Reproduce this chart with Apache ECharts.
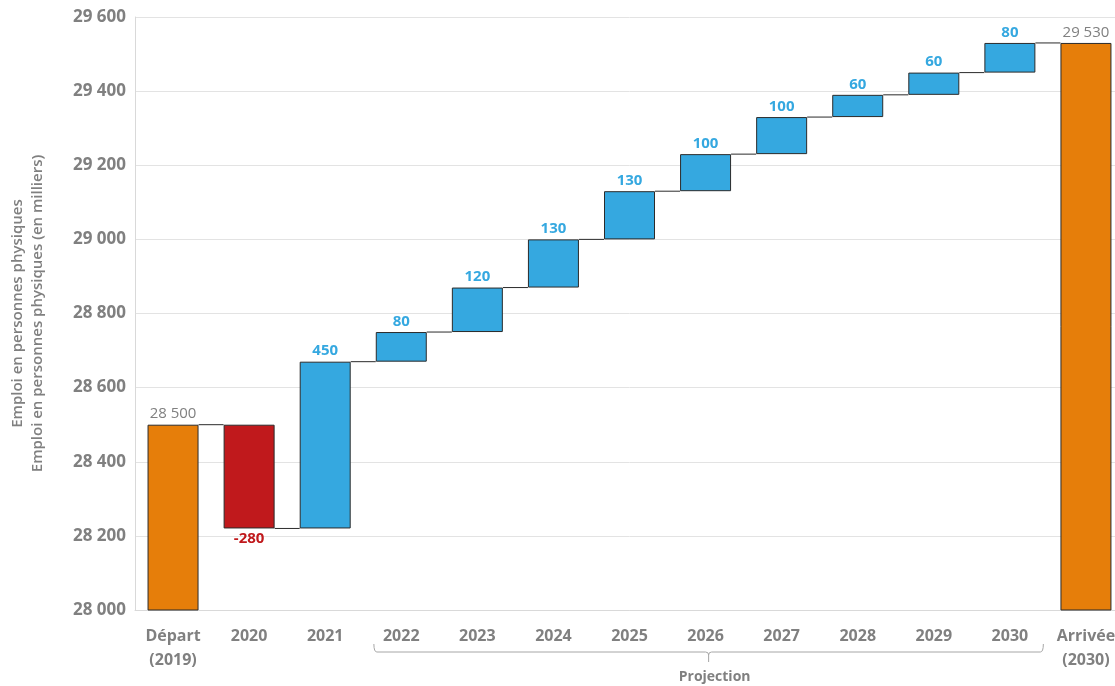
<!DOCTYPE html>
<html><head><meta charset="utf-8">
<script src="https://cdn.jsdelivr.net/npm/echarts@6/dist/echarts.min.js"></script>
<style>html,body{margin:0;padding:0;background:#fff;overflow:hidden}#c{width:1124px;height:686px}</style>
</head><body><div id="c"></div>
<script>
const categories = ['Départ\n(2019)','2020','2021','2022','2023','2024','2025','2026','2027','2028','2029','2030','Arrivée\n(2030)'];
const startValue = 28500;
const deltas = [-280, 450, 80, 120, 130, 130, 100, 100, 60, 60, 80];
const endValue = 29530;
const yTicks = {min: 28000, max: 29600, interval: 200};

const fmt = v => String(Math.round(Math.abs(v))).replace(/\B(?=(\d{3})+(?!\d))/g, ' ');
const ORANGE = '#E67E0A', RED = '#C0191C', BLUE = '#35A8E0', GREY = '#808080';

const base = [], vis = [], levels = [startValue];
base.push(0); vis.push({value: startValue, itemStyle:{color: ORANGE}, label:{show:true, position:'top', formatter: fmt(startValue), color: GREY, fontWeight:'normal'}});
let lvl = startValue;
deltas.forEach(d => {
  const nl = lvl + d;
  base.push(Math.min(lvl, nl));
  vis.push({value: Math.abs(d), itemStyle:{color: d < 0 ? RED : BLUE},
    label:{show:true, position: d < 0 ? 'bottom' : 'top', formatter: (d<0?'-':'') + fmt(d), color: d < 0 ? RED : BLUE, fontWeight:'bold'}});
  lvl = nl; levels.push(lvl);
});
base.push(0); vis.push({value: endValue, itemStyle:{color: ORANGE}, label:{show:true, position:'top', formatter: fmt(endValue), color: GREY, fontWeight:'normal'}});

const connectors = levels.map((v, i) => [i, v]);
const BWPX = 51;

const chart = echarts.init(document.getElementById('c'));
const FONT = 'Open Sans';
chart.setOption({
  animation: false,
  textStyle: {fontFamily: FONT},
  grid: {left: 134, right: 0, top: 17, bottom: 76, containLabel: false},
  xAxis: {
    type: 'category', data: categories,
    axisLine: {show: true, lineStyle: {color: '#d9d9d9'}},
    axisTick: {show: false},
    axisLabel: {color: GREY, fontSize: 16, fontWeight: 'bold', margin: 14, lineHeight: 24, fontFamily: FONT, interval: 0}
  },
  yAxis: {
    type: 'value', min: yTicks.min, max: yTicks.max, interval: yTicks.interval,
    name: 'Emploi en personnes physiques\nEmploi en personnes physiques (en milliers)',
    nameLocation: 'middle', nameGap: 87, nameRotate: 90,
    nameTextStyle: {color: GREY, fontSize: 15, fontWeight: 600, lineHeight: 20, fontFamily: FONT},
    axisLine: {show: true, lineStyle: {color: '#d9d9d9'}},
    axisTick: {show: false},
    splitLine: {lineStyle: {color: '#e3e3e3'}},
    axisLabel: {color: GREY, fontSize: 17, fontWeight: 'bold', margin: 9, formatter: v => fmt(v), fontFamily: FONT}
  },
  series: [
    {type: 'bar', stack: 'w', data: base, barWidth: BWPX, itemStyle: {color: 'transparent'}, silent: true},
    {type: 'bar', stack: 'w', data: vis, barWidth: BWPX,
      itemStyle: {borderColor: '#2b2b2b', borderWidth: 1},
      label: {fontSize: 15, distance: 3, fontFamily: FONT}},
    {type: 'custom', data: connectors, z: 1,
      renderItem: (params, api) => {
        const i = api.value(0);
        const p = api.coord([i, api.value(1)]);
        const w = api.size([1, 0])[0];
        return {type: 'line', shape: {x1: p[0] + BWPX/2, y1: p[1], x2: p[0] + w - BWPX/2, y2: p[1]},
          style: {stroke: '#2b2b2b', lineWidth: 1}};
      }}
  ]
});

function drawBracket() {
  const w = chart.convertToPixel({xAxisIndex: 0}, 1) - chart.convertToPixel({xAxisIndex: 0}, 0);
  const xL = chart.convertToPixel({xAxisIndex: 0}, 3) - 0.36 * w;
  const xR = chart.convertToPixel({xAxisIndex: 0}, 11) + 0.44 * w;
  const xm = (xL + xR) / 2;
  const y = 652, r = 3;
  const st = {stroke: '#a6a6a6', lineWidth: 1, fill: null};
  const g = [
    {type: 'bezierCurve', shape: {x1: xL, y1: y-8, x2: xL+r, y2: y, cpx1: xL, cpy1: y}, style: st},
    {type: 'line', shape: {x1: xL+r, y1: y, x2: xm-r, y2: y}, style: st},
    {type: 'bezierCurve', shape: {x1: xm-r, y1: y, x2: xm, y2: y+r, cpx1: xm, cpy1: y}, style: st},
    {type: 'bezierCurve', shape: {x1: xm+r, y1: y, x2: xm, y2: y+r, cpx1: xm, cpy1: y}, style: st},
    {type: 'line', shape: {x1: xm, y1: y+r, x2: xm, y2: y+10}, style: st},
    {type: 'line', shape: {x1: xm+r, y1: y, x2: xR-r, y2: y}, style: st},
    {type: 'bezierCurve', shape: {x1: xR-r, y1: y, x2: xR, y2: y-8, cpx1: xR, cpy1: y}, style: st},
    {type: 'text', x: xm + 6, y: 677, style: {text: 'Projection', fill: GREY, font: `bold 14px "${FONT}"`, textAlign: 'center', textVerticalAlign: 'middle'}}
  ];
  chart.setOption({graphic: g});
}
drawBracket();
</script></body></html>
